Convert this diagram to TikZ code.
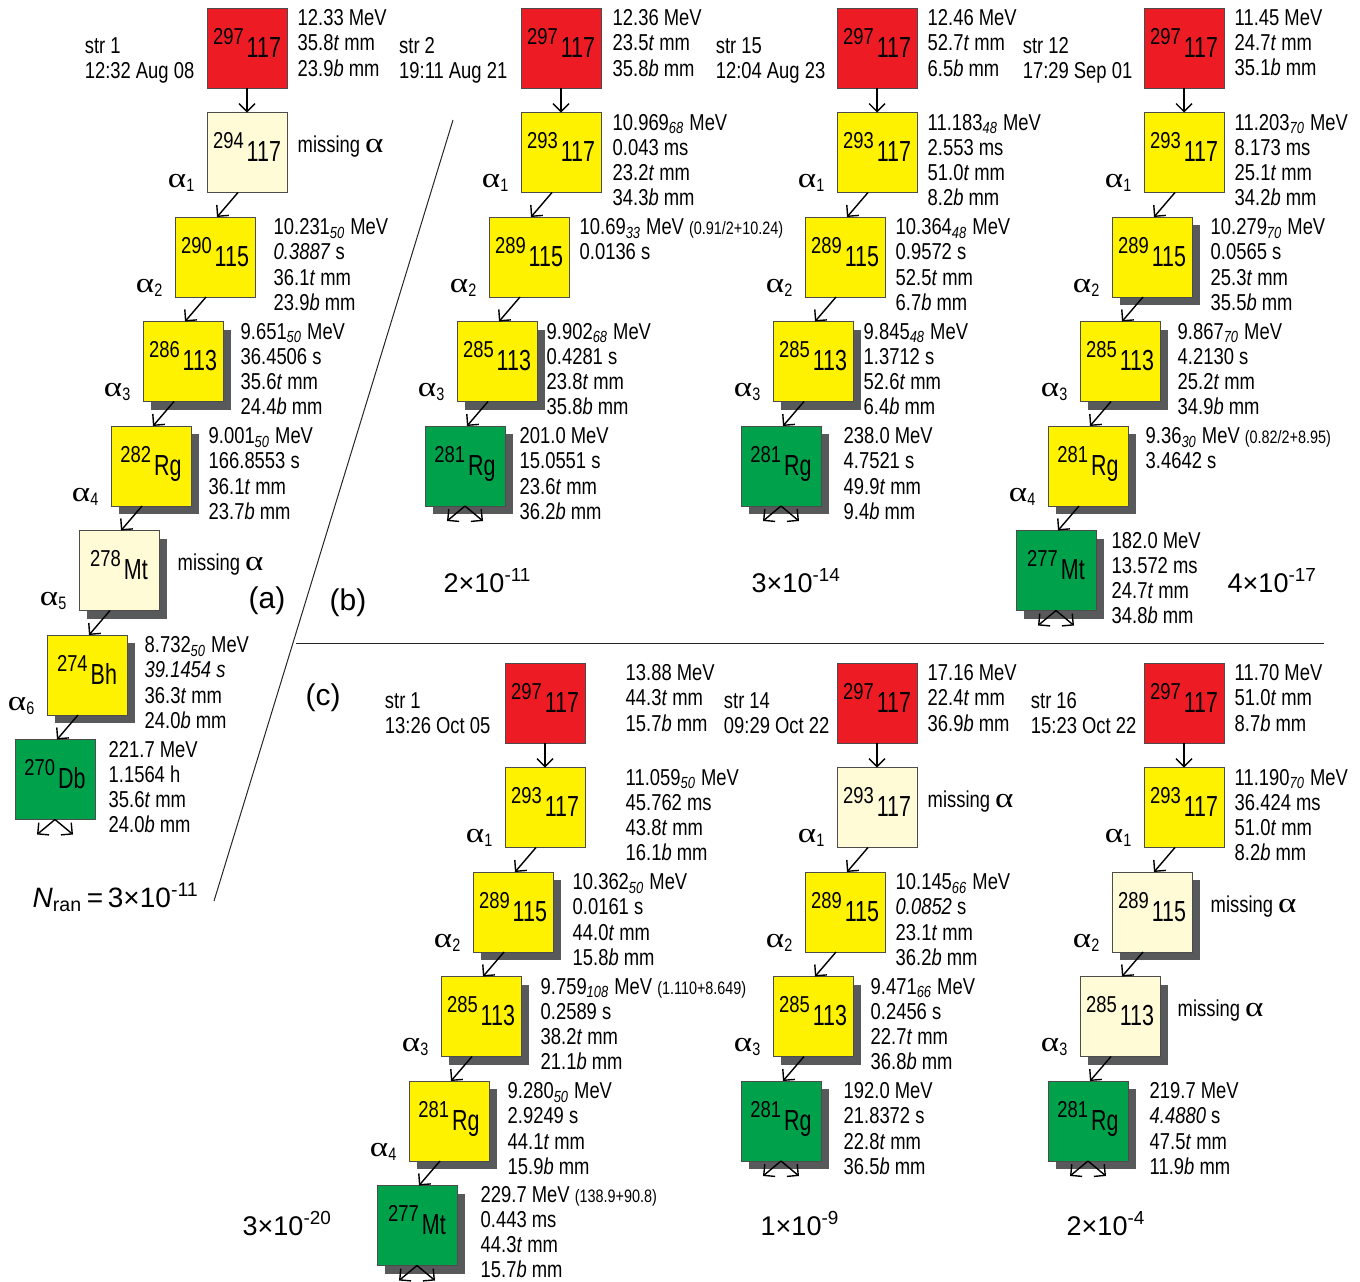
\documentclass[tikz,border=0pt]{standalone}
\usepackage{fontspec}
\setmainfont{Liberation Sans}[FakeStretch=0.8]
\newfontfamily\elfont{Liberation Sans}[FakeStretch=0.74]
\newfontfamily\widefont{Liberation Sans}
\newfontfamily\grfont{Liberation Serif}[FakeStretch=1.25]
\usetikzlibrary{positioning,arrows.meta,calc,shadows}
\definecolor{redc}{HTML}{ED1C24}
\definecolor{yelc}{HTML}{FFF200}
\definecolor{creamc}{HTML}{FFFBD7}
\definecolor{greenc}{HTML}{00A14B}
\definecolor{shadc}{HTML}{58595B}
\newcommand{\iso}[2]{\raisebox{6.5pt}{\rmfamily\fontsize{11.5}{11.5}\selectfont #1}\hspace{1.5pt}#2}
\newcommand{\sub}[1]{\textsubscript{\itshape #1}}
\newcommand{\alp}{{\grfont\fontsize{14}{14}\selectfont α}}
\newcommand{\al}[1]{\alp\textsubscript{\fontsize{9}{9}\selectfont #1}}
\newcommand{\pr}[1]{{\fontsize{9}{9}\selectfont #1}}
\begin{document}
\begin{tikzpicture}[x=0.5pt, y=-0.5pt, node distance=12.25pt,
    >={Straight Barb[length=4pt,width=8pt]}, line width=0.7pt,
    nuc/.style={draw=black!70, line width=0.5pt, minimum size=40pt, inner sep=0pt, outer sep=0pt,
                text height=14.5pt, text depth=5.5pt, font=\elfont\fontsize{14.5}{16}\selectfont},
    parent/.style={nuc, fill=redc},
    miss/.style={nuc, fill=creamc},
    alph/.style={nuc, fill=yelc},
    fis/.style={nuc, fill=greenc},
    shad/.style={drop shadow={shadow xshift=4pt, shadow yshift=-4pt, fill=shadc, opacity=1}},
    dau/.style={below=of #1, xshift=-16pt},
    info/.style={anchor=north west, inner sep=0pt, align=left, font=\fontsize{11.5}{12.6}\selectfont},
    strlab/.style={anchor=north east, inner sep=0pt, align=left, font=\fontsize{11.5}{12.6}\selectfont},
    misslab/.style={anchor=base west, inner sep=0pt, font=\fontsize{11.5}{12.6}\selectfont},
    allab/.style={anchor=base east, inner sep=0pt, font=\fontsize{11.5}{12.6}\selectfont},
    prob/.style={anchor=base west, inner sep=0pt, font=\widefont\fontsize{13.5}{15}\selectfont},
    panel/.style={anchor=base west, inner sep=0pt, font=\widefont\fontsize{15}{17}\selectfont}]
\useasboundingbox (0,0) rectangle (1360,1281);

% separators
\coordinate (sepA) at (453,120);
\coordinate (sepB) at (214,901);
\coordinate (sepC) at (296,643);
\coordinate (sepD) at (1324,643);
\draw[line width=0.5pt, black!85] (sepA) -- (sepB);
\draw[line width=0.5pt, black!85] (sepC) -- (sepD);

% (a) str 1
\node[parent] (a0) at (247,48) {\iso{297}{117}};
\node[miss, below=of a0] (a1) {\iso{294}{117}};
\node[alph, dau=a1] (a2) {\iso{290}{115}};
\node[alph, shad, dau=a2] (a3) {\iso{286}{113}};
\node[alph, shad, dau=a3] (a4) {\iso{282}{Rg}};
\node[miss, shad, dau=a4] (a5) {\iso{278}{Mt}};
\node[alph, shad, dau=a5] (a6) {\iso{274}{Bh}};
\node[fis, dau=a6] (a7) {\iso{270}{Db}};
\draw[->] (a0.south) -- (a1.north);
\draw[->] ([xshift=-4.5pt]a1.south) -- ([xshift=1pt]a2.north);
\draw[->] ([xshift=-4.5pt]a2.south) -- ([xshift=1pt]a3.north);
\draw[->] ([xshift=-4.5pt]a3.south) -- ([xshift=1pt]a4.north);
\draw[->] ([xshift=-4.5pt]a4.south) -- ([xshift=1pt]a5.north);
\draw[->] ([xshift=-4.5pt]a5.south) -- ([xshift=1pt]a6.north);
\draw[->] ([xshift=-4.5pt]a6.south) -- ([xshift=1pt]a7.north);
\coordinate[below left=7.5pt and 9pt of a7.south] (a7l);
\coordinate[below right=7.5pt and 9pt of a7.south] (a7r);
\draw[->] (a7.south) -- (a7l);
\draw[->] (a7.south) -- (a7r);
\node[strlab] (a0s) at ([xshift=-6pt,yshift=5.5pt]a0.west) {str 1\\12:32 Aug 08};
\node[info] (a0i) at ([xshift=5pt,yshift=-0.5pt]a0.north east) {12.33 MeV\\35.8\textit{t} mm\\23.9\textit{b} mm};
\node[misslab] (a1i) at ([xshift=5pt]a1.east) {missing \alp};
\node[info] (a2i) at ([xshift=9pt,yshift=-0.5pt]a2.north east) {10.231\sub{50} MeV\\\textit{0.3887} s\\36.1\textit{t} mm\\23.9\textit{b} mm};
\node[info] (a3i) at ([xshift=8.5pt,yshift=-0.5pt]a3.north east) {9.651\sub{50} MeV\\36.4506 s\\35.6\textit{t} mm\\24.4\textit{b} mm};
\node[info] (a4i) at ([xshift=8.5pt,yshift=-0.5pt]a4.north east) {9.001\sub{50} MeV\\166.8553 s\\36.1\textit{t} mm\\23.7\textit{b} mm};
\node[misslab] (a5i) at ([xshift=9pt]a5.east) {missing \alp};
\node[info] (a6i) at ([xshift=8.5pt,yshift=-0.5pt]a6.north east) {8.732\sub{50} MeV\\\textit{39.1454 s}\\36.3\textit{t} mm\\24.0\textit{b} mm};
\node[info] (a7i) at ([xshift=6.5pt,yshift=-0.5pt]a7.north east) {221.7 MeV\\1.1564 h\\35.6\textit{t} mm\\24.0\textit{b} mm};
\node[allab] (a1a) at ([xshift=-5.5pt,yshift=2.5pt]a1.south west) {\al{1}};
\node[allab] (a2a) at ([xshift=-5.5pt,yshift=2.5pt]a2.south west) {\al{2}};
\node[allab] (a3a) at ([xshift=-5.5pt,yshift=2.5pt]a3.south west) {\al{3}};
\node[allab] (a4a) at ([xshift=-5.5pt,yshift=2.5pt]a4.south west) {\al{4}};
\node[allab] (a5a) at ([xshift=-5.5pt,yshift=2.5pt]a5.south west) {\al{5}};
\node[allab] (a6a) at ([xshift=-5.5pt,yshift=2.5pt]a6.south west) {\al{6}};

% (b) str 2
\node[parent] (ba0) at (561,48) {\iso{297}{117}};
\node[alph, below=of ba0] (ba1) {\iso{293}{117}};
\node[alph, dau=ba1] (ba2) {\iso{289}{115}};
\node[alph, shad, dau=ba2] (ba3) {\iso{285}{113}};
\node[fis, shad, dau=ba3] (ba4) {\iso{281}{Rg}};
\draw[->] (ba0.south) -- (ba1.north);
\draw[->] ([xshift=-4.5pt]ba1.south) -- ([xshift=1pt]ba2.north);
\draw[->] ([xshift=-4.5pt]ba2.south) -- ([xshift=1pt]ba3.north);
\draw[->] ([xshift=-4.5pt]ba3.south) -- ([xshift=1pt]ba4.north);
\coordinate[below left=7.5pt and 9pt of ba4.south] (ba4l);
\coordinate[below right=7.5pt and 9pt of ba4.south] (ba4r);
\draw[->] (ba4.south) -- (ba4l);
\draw[->] (ba4.south) -- (ba4r);
\node[strlab] (ba0s) at ([xshift=-6.5pt,yshift=5.5pt]ba0.west) {str 2\\19:11 Aug 21};
\node[info] (ba0i) at ([xshift=5.5pt,yshift=-0.5pt]ba0.north east) {12.36 MeV\\23.5\textit{t} mm\\35.8\textit{b} mm};
\node[info] (ba1i) at ([xshift=5.5pt,yshift=-0.5pt]ba1.north east) {10.969\sub{68} MeV\\0.043 ms\\23.2\textit{t} mm\\34.3\textit{b} mm};
\node[info] (ba2i) at ([xshift=5pt,yshift=-0.5pt]ba2.north east) {10.69\sub{33} MeV \pr{(0.91/2+10.24)}\\0.0136 s};
\node[info] (ba3i) at ([xshift=4.5pt,yshift=-0.5pt]ba3.north east) {9.902\sub{68} MeV\\0.4281 s\\23.8\textit{t} mm\\35.8\textit{b} mm};
\node[info] (ba4i) at ([xshift=7pt,yshift=-0.5pt]ba4.north east) {201.0 MeV\\15.0551 s\\23.6\textit{t} mm\\36.2\textit{b} mm};
\node[allab] (ba1a) at ([xshift=-5.5pt,yshift=2.5pt]ba1.south west) {\al{1}};
\node[allab] (ba2a) at ([xshift=-5.5pt,yshift=2.5pt]ba2.south west) {\al{2}};
\node[allab] (ba3a) at ([xshift=-5.5pt,yshift=2.5pt]ba3.south west) {\al{3}};

% (b) str 15
\node[parent] (bb0) at (877,48) {\iso{297}{117}};
\node[alph, below=of bb0] (bb1) {\iso{293}{117}};
\node[alph, dau=bb1] (bb2) {\iso{289}{115}};
\node[alph, shad, dau=bb2] (bb3) {\iso{285}{113}};
\node[fis, shad, dau=bb3] (bb4) {\iso{281}{Rg}};
\draw[->] (bb0.south) -- (bb1.north);
\draw[->] ([xshift=-4.5pt]bb1.south) -- ([xshift=1pt]bb2.north);
\draw[->] ([xshift=-4.5pt]bb2.south) -- ([xshift=1pt]bb3.north);
\draw[->] ([xshift=-4.5pt]bb3.south) -- ([xshift=1pt]bb4.north);
\coordinate[below left=7.5pt and 9pt of bb4.south] (bb4l);
\coordinate[below right=7.5pt and 9pt of bb4.south] (bb4r);
\draw[->] (bb4.south) -- (bb4l);
\draw[->] (bb4.south) -- (bb4r);
\node[strlab] (bb0s) at ([xshift=-5.5pt,yshift=5.5pt]bb0.west) {str 15\\12:04 Aug 23};
\node[info] (bb0i) at ([xshift=5pt,yshift=-0.5pt]bb0.north east) {12.46 MeV\\52.7\textit{t} mm\\6.5\textit{b} mm};
\node[info] (bb1i) at ([xshift=5pt,yshift=-0.5pt]bb1.north east) {11.183\sub{48} MeV\\2.553 ms\\51.0\textit{t} mm\\8.2\textit{b} mm};
\node[info] (bb2i) at ([xshift=5pt,yshift=-0.5pt]bb2.north east) {10.364\sub{48} MeV\\0.9572 s\\52.5\textit{t} mm\\6.7\textit{b} mm};
\node[info] (bb3i) at ([xshift=5pt,yshift=-0.5pt]bb3.north east) {9.845\sub{48} MeV\\1.3712 s\\52.6\textit{t} mm\\6.4\textit{b} mm};
\node[info] (bb4i) at ([xshift=11pt,yshift=-0.5pt]bb4.north east) {238.0 MeV\\4.7521 s\\49.9\textit{t} mm\\9.4\textit{b} mm};
\node[allab] (bb1a) at ([xshift=-5.5pt,yshift=2.5pt]bb1.south west) {\al{1}};
\node[allab] (bb2a) at ([xshift=-5.5pt,yshift=2.5pt]bb2.south west) {\al{2}};
\node[allab] (bb3a) at ([xshift=-5.5pt,yshift=2.5pt]bb3.south west) {\al{3}};

% (b) str 12
\node[parent] (bc0) at (1184,48) {\iso{297}{117}};
\node[alph, below=of bc0] (bc1) {\iso{293}{117}};
\node[alph, shad, dau=bc1] (bc2) {\iso{289}{115}};
\node[alph, shad, dau=bc2] (bc3) {\iso{285}{113}};
\node[alph, shad, dau=bc3] (bc4) {\iso{281}{Rg}};
\node[fis, shad, dau=bc4] (bc5) {\iso{277}{Mt}};
\draw[->] (bc0.south) -- (bc1.north);
\draw[->] ([xshift=-4.5pt]bc1.south) -- ([xshift=1pt]bc2.north);
\draw[->] ([xshift=-4.5pt]bc2.south) -- ([xshift=1pt]bc3.north);
\draw[->] ([xshift=-4.5pt]bc3.south) -- ([xshift=1pt]bc4.north);
\draw[->] ([xshift=-4.5pt]bc4.south) -- ([xshift=1pt]bc5.north);
\coordinate[below left=7.5pt and 9pt of bc5.south] (bc5l);
\coordinate[below right=7.5pt and 9pt of bc5.south] (bc5r);
\draw[->] (bc5.south) -- (bc5l);
\draw[->] (bc5.south) -- (bc5r);
\node[strlab] (bc0s) at ([xshift=-5.5pt,yshift=5.5pt]bc0.west) {str 12\\17:29 Sep 01};
\node[info] (bc0i) at ([xshift=5pt,yshift=-0.5pt]bc0.north east) {11.45 MeV\\24.7\textit{t} mm\\35.1\textit{b} mm};
\node[info] (bc1i) at ([xshift=5pt,yshift=-0.5pt]bc1.north east) {11.203\sub{70} MeV\\8.173 ms\\25.1\textit{t} mm\\34.2\textit{b} mm};
\node[info] (bc2i) at ([xshift=9pt,yshift=-0.5pt]bc2.north east) {10.279\sub{70} MeV\\0.0565 s\\25.3\textit{t} mm\\35.5\textit{b} mm};
\node[info] (bc3i) at ([xshift=8.5pt,yshift=-0.5pt]bc3.north east) {9.867\sub{70} MeV\\4.2130 s\\25.2\textit{t} mm\\34.9\textit{b} mm};
\node[info] (bc4i) at ([xshift=8.5pt,yshift=-0.5pt]bc4.north east) {9.36\sub{30} MeV \pr{(0.82/2+8.95)}\\3.4642 s};
\node[info] (bc5i) at ([xshift=7.5pt,yshift=-0.5pt]bc5.north east) {182.0 MeV\\13.572 ms\\24.7\textit{t} mm\\34.8\textit{b} mm};
\node[allab] (bc1a) at ([xshift=-5.5pt,yshift=2.5pt]bc1.south west) {\al{1}};
\node[allab] (bc2a) at ([xshift=-5.5pt,yshift=2.5pt]bc2.south west) {\al{2}};
\node[allab] (bc3a) at ([xshift=-5.5pt,yshift=2.5pt]bc3.south west) {\al{3}};
\node[allab] (bc4a) at ([xshift=-5.5pt,yshift=2.5pt]bc4.south west) {\al{4}};

% (c) str 1
\node[parent] (ca0) at (545,703) {\iso{297}{117}};
\node[alph, below=of ca0] (ca1) {\iso{293}{117}};
\node[alph, shad, dau=ca1] (ca2) {\iso{289}{115}};
\node[alph, shad, dau=ca2] (ca3) {\iso{285}{113}};
\node[alph, shad, dau=ca3] (ca4) {\iso{281}{Rg}};
\node[fis, shad, dau=ca4] (ca5) {\iso{277}{Mt}};
\draw[->] (ca0.south) -- (ca1.north);
\draw[->] ([xshift=-4.5pt]ca1.south) -- ([xshift=1pt]ca2.north);
\draw[->] ([xshift=-4.5pt]ca2.south) -- ([xshift=1pt]ca3.north);
\draw[->] ([xshift=-4.5pt]ca3.south) -- ([xshift=1pt]ca4.north);
\draw[->] ([xshift=-4.5pt]ca4.south) -- ([xshift=1pt]ca5.north);
\coordinate[below left=7.5pt and 9pt of ca5.south] (ca5l);
\coordinate[below right=7.5pt and 9pt of ca5.south] (ca5r);
\draw[->] (ca5.south) -- (ca5l);
\draw[->] (ca5.south) -- (ca5r);
\node[strlab] (ca0s) at ([xshift=-7pt,yshift=5.5pt]ca0.west) {str 1\\13:26 Oct 05};
\node[info] (ca0i) at ([xshift=20pt,yshift=-0.5pt]ca0.north east) {13.88 MeV\\44.3\textit{t} mm\\15.7\textit{b} mm};
\node[info] (ca1i) at ([xshift=20pt,yshift=-0.5pt]ca1.north east) {11.059\sub{50} MeV\\45.762 ms\\43.8\textit{t} mm\\16.1\textit{b} mm};
\node[info] (ca2i) at ([xshift=9.5pt,yshift=-0.5pt]ca2.north east) {10.362\sub{50} MeV\\0.0161 s\\44.0\textit{t} mm\\15.8\textit{b} mm};
\node[info] (ca3i) at ([xshift=9.5pt,yshift=-0.5pt]ca3.north east) {9.759\sub{108} MeV \pr{(1.110+8.649)}\\0.2589 s\\38.2\textit{t} mm\\21.1\textit{b} mm};
\node[info] (ca4i) at ([xshift=9pt,yshift=-0.5pt]ca4.north east) {9.280\sub{50} MeV\\2.9249 s\\44.1\textit{t} mm\\15.9\textit{b} mm};
\node[info] (ca5i) at ([xshift=11.5pt,yshift=0pt]ca5.north east) {229.7 MeV \pr{(138.9+90.8)}\\0.443 ms\\44.3\textit{t} mm\\15.7\textit{b} mm};
\node[allab] (ca1a) at ([xshift=-5.5pt,yshift=2.5pt]ca1.south west) {\al{1}};
\node[allab] (ca2a) at ([xshift=-5.5pt,yshift=2.5pt]ca2.south west) {\al{2}};
\node[allab] (ca3a) at ([xshift=-5.5pt,yshift=2.5pt]ca3.south west) {\al{3}};
\node[allab] (ca4a) at ([xshift=-5.5pt,yshift=2.5pt]ca4.south west) {\al{4}};

% (c) str 14
\node[parent] (cb0) at (877,703) {\iso{297}{117}};
\node[miss, below=of cb0] (cb1) {\iso{293}{117}};
\node[alph, dau=cb1] (cb2) {\iso{289}{115}};
\node[alph, shad, dau=cb2] (cb3) {\iso{285}{113}};
\node[fis, shad, dau=cb3] (cb4) {\iso{281}{Rg}};
\draw[->] (cb0.south) -- (cb1.north);
\draw[->] ([xshift=-4.5pt]cb1.south) -- ([xshift=1pt]cb2.north);
\draw[->] ([xshift=-4.5pt]cb2.south) -- ([xshift=1pt]cb3.north);
\draw[->] ([xshift=-4.5pt]cb3.south) -- ([xshift=1pt]cb4.north);
\coordinate[below left=7.5pt and 9pt of cb4.south] (cb4l);
\coordinate[below right=7.5pt and 9pt of cb4.south] (cb4r);
\draw[->] (cb4.south) -- (cb4l);
\draw[->] (cb4.south) -- (cb4r);
\node[strlab] (cb0s) at ([xshift=-3.5pt,yshift=5.5pt]cb0.west) {str 14\\09:29 Oct 22};
\node[info] (cb0i) at ([xshift=5pt,yshift=-0.5pt]cb0.north east) {17.16 MeV\\22.4\textit{t} mm\\36.9\textit{b} mm};
\node[misslab] (cb1i) at ([xshift=5pt]cb1.east) {missing \alp};
\node[info] (cb2i) at ([xshift=5pt,yshift=-0.5pt]cb2.north east) {10.145\sub{66} MeV\\\textit{0.0852} s\\23.1\textit{t} mm\\36.2\textit{b} mm};
\node[info] (cb3i) at ([xshift=8.5pt,yshift=-0.5pt]cb3.north east) {9.471\sub{66} MeV\\0.2456 s\\22.7\textit{t} mm\\36.8\textit{b} mm};
\node[info] (cb4i) at ([xshift=11pt,yshift=-0.5pt]cb4.north east) {192.0 MeV\\21.8372 s\\22.8\textit{t} mm\\36.5\textit{b} mm};
\node[allab] (cb1a) at ([xshift=-5.5pt,yshift=2.5pt]cb1.south west) {\al{1}};
\node[allab] (cb2a) at ([xshift=-5.5pt,yshift=2.5pt]cb2.south west) {\al{2}};
\node[allab] (cb3a) at ([xshift=-5.5pt,yshift=2.5pt]cb3.south west) {\al{3}};

% (c) str 16
\node[parent] (cc0) at (1184,703) {\iso{297}{117}};
\node[alph, below=of cc0] (cc1) {\iso{293}{117}};
\node[miss, shad, dau=cc1] (cc2) {\iso{289}{115}};
\node[miss, shad, dau=cc2] (cc3) {\iso{285}{113}};
\node[fis, shad, dau=cc3] (cc4) {\iso{281}{Rg}};
\draw[->] (cc0.south) -- (cc1.north);
\draw[->] ([xshift=-4.5pt]cc1.south) -- ([xshift=1pt]cc2.north);
\draw[->] ([xshift=-4.5pt]cc2.south) -- ([xshift=1pt]cc3.north);
\draw[->] ([xshift=-4.5pt]cc3.south) -- ([xshift=1pt]cc4.north);
\coordinate[below left=7.5pt and 9pt of cc4.south] (cc4l);
\coordinate[below right=7.5pt and 9pt of cc4.south] (cc4r);
\draw[->] (cc4.south) -- (cc4l);
\draw[->] (cc4.south) -- (cc4r);
\node[strlab] (cc0s) at ([xshift=-3.5pt,yshift=5.5pt]cc0.west) {str 16\\15:23 Oct 22};
\node[info] (cc0i) at ([xshift=5pt,yshift=-0.5pt]cc0.north east) {11.70 MeV\\51.0\textit{t} mm\\8.7\textit{b} mm};
\node[info] (cc1i) at ([xshift=5pt,yshift=-0.5pt]cc1.north east) {11.190\sub{70} MeV\\36.424 ms\\51.0\textit{t} mm\\8.2\textit{b} mm};
\node[misslab] (cc2i) at ([xshift=9pt]cc2.east) {missing \alp};
\node[misslab] (cc3i) at ([xshift=8.5pt]cc3.east) {missing \alp};
\node[info] (cc4i) at ([xshift=10.5pt,yshift=-0.5pt]cc4.north east) {219.7 MeV\\\textit{4.4880} s\\47.5\textit{t} mm\\11.9\textit{b} mm};
\node[allab] (cc1a) at ([xshift=-5.5pt,yshift=2.5pt]cc1.south west) {\al{1}};
\node[allab] (cc2a) at ([xshift=-5.5pt,yshift=2.5pt]cc2.south west) {\al{2}};
\node[allab] (cc3a) at ([xshift=-5.5pt,yshift=2.5pt]cc3.south west) {\al{3}};

% panel labels and probabilities
\node[panel] (pa) at (248,608) {(a)};
\node[panel] (pb) at (329,610) {(b)};
\node[panel] (pc) at (305,705) {(c)};
\node[prob] (nran) at (32,907) {\fontsize{14}{16}\selectfont\textit{N}\textsubscript{ran}\,=\,3×10\textsuperscript{-11}};
\node[prob] (qba) at (443,592) {2×10\textsuperscript{-11}};
\node[prob] (qbb) at (751,592) {3×10\textsuperscript{-14}};
\node[prob] (qbc) at (1227,592) {4×10\textsuperscript{-17}};
\node[prob] (qca) at (242,1235) {3×10\textsuperscript{-20}};
\node[prob] (qcb) at (760,1235) {1×10\textsuperscript{-9}};
\node[prob] (qcc) at (1066,1235) {2×10\textsuperscript{-4}};
\end{tikzpicture}
\end{document}
